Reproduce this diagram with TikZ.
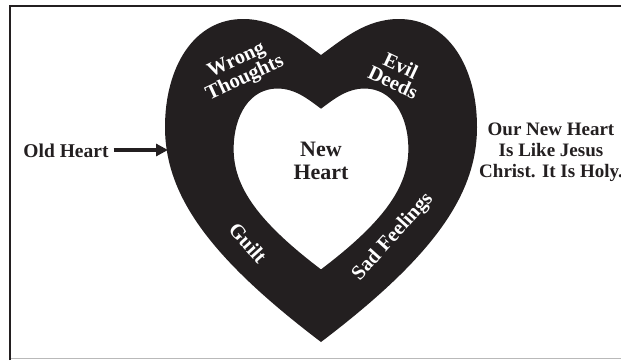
\documentclass[tikz,border=0pt]{standalone}
\usepackage{fontspec}
\setmainfont{Liberation Serif}
\usetikzlibrary{positioning,arrows.meta,calc}
\definecolor{cInk}{HTML}{231F20}

% heart outline, scaled by #1, centred between the lobes and the tip
\newcommand{\heartline}[1]{%
  (0,122*#1) .. controls (-22*#1,138*#1) and (-45*#1,158*#1) .. (-78*#1,158*#1)
  .. controls (-127*#1,158*#1) and (-156*#1,110*#1) .. (-156*#1,50*#1)
  .. controls (-156*#1,-18*#1) and (-112*#1,-80*#1) .. (0,-165*#1)
  .. controls (112*#1,-80*#1) and (156*#1,-18*#1) .. (156*#1,50*#1)
  .. controls (156*#1,110*#1) and (127*#1,158*#1) .. (78*#1,158*#1)
  .. controls (45*#1,158*#1) and (22*#1,138*#1) .. (0,122*#1) -- cycle}

\tikzset{
  ringlabel/.style={text=white,align=center,inner sep=0pt,
    font=\fontsize{20.5}{18}\selectfont\bfseries},
  plainlabel/.style={text=cInk,align=center,inner sep=0pt}
}

\begin{document}
\begin{tikzpicture}[x=1pt,y=1pt]
  \useasboundingbox (0,0) rectangle (621,360);
  % frame
  \draw[cInk,line width=2pt] (10,0) -- (10,353.7) -- (621,353.7);
  \draw[gray!55,line width=1pt] (11,1.5) -- (621,1.5);

  % the ring
  \fill[cInk,even odd rule,shift={(321,183)}] \heartline{1} \heartline{0.56};

  \node[plainlabel,font=\fontsize{22}{22.5}\selectfont\bfseries] (newheart) at (321,199) {New\\Heart};
  \node[ringlabel,rotate=25] (wrong) at (241,290) {Wrong\\Thoughts};
  \node[ringlabel,rotate=-25] (evil) at (397,286) {Evil\\Deeds};
  \node[ringlabel,rotate=-48] (guilt) at (248,117) {Guilt};
  \node[ringlabel,rotate=48] (sad) at (393,123) {Sad Feelings};

  \node[plainlabel,font=\fontsize{19.5}{20}\selectfont\bfseries] (oldheart) at (66,209) {Old Heart};
  \coordinate (ringedge) at (168,210);
  \draw[cInk,line width=3.5pt,-{Triangle[length=12pt,width=12pt]}]
    ($(oldheart.east)+(5,1)$) -- (ringedge);

  \node[plainlabel,font=\fontsize{19}{21}\selectfont\bfseries] (holy) at (551,208)
    {Our New Heart\\Is Like Jesus\\Christ. It Is Holy.};
\end{tikzpicture}
\end{document}
